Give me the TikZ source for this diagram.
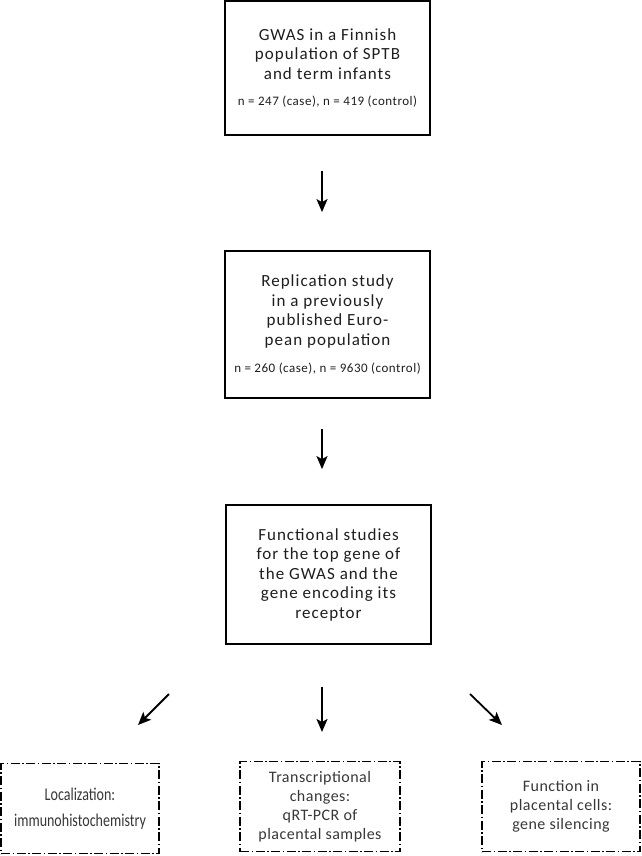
\documentclass[tikz,border=0pt]{standalone}
\usepackage{fontspec}
\setmainfont{Carlito}[LetterSpace=6]
\newfontfamily\countfont{Carlito}[LetterSpace=4]
\newfontfamily\branchfont{Carlito}[LetterSpace=3]
\newfontfamily\condfont{Carlito}[FakeStretch=0.78]
\usepackage{xcolor}
\usetikzlibrary{arrows.meta,positioning}
\definecolor{boxtext}{RGB}{30,30,30}
\definecolor{subtext}{RGB}{55,55,55}

\begin{document}
\begin{tikzpicture}[
  x=1pt,y=-1pt,
  >=Stealth,
  studybox/.style={draw=black,line width=1.8pt,align=center,
    minimum width=205pt,inner sep=0pt,text=boxtext,
    font=\fontsize{17}{19.5}\selectfont},
  branchbox/.style={draw=black,line width=1.2pt,
    dash pattern=on 9pt off 2.5pt on 1.5pt off 2.5pt,
    align=center,minimum width=159pt,minimum height=90pt,inner sep=0pt,
    text=subtext,font=\branchfont\fontsize{16}{19}\selectfont},
  flow/.style={->,line width=1.8pt,
    arrows={-Stealth[length=13pt,width=11pt,inset=3pt]}},
  count/.style={font=\fontsize{12.5}{15}\selectfont}
]
\useasboundingbox (0,0) rectangle (641,856);

\node[studybox,minimum height=134pt] (gwas) at (327.5,68)
  {GWAS in a Finnish\\population of SPTB\\and term infants\\[7pt]
   {\countfont\fontsize{13}{15}\selectfont n = 247 (case), n = 419 (control)}};
\node[studybox,minimum height=147pt] (replication) at (327.5,324.5)
  {Replication study\\in a previously\\published Euro-\\pean population\\[8pt]
   {\countfont\fontsize{13}{15}\selectfont n = 260 (case), n = 9630 (control)}};
\node[studybox,minimum height=139pt] (functional) at (328.5,574.5)
  {Functional studies\\for the top gene of\\the GWAS and the\\gene encoding its\\receptor};

\node[branchbox,minimum width=158pt,font=\condfont\fontsize{18}{19}\selectfont]
  (localization) at (80,808.5) {Localization:\\[7pt]immunohistochemistry};
\node[branchbox,minimum width=160pt] (transcription) at (320,806.5)
  {Transcriptional\\changes:\\qRT-PCR of\\placental samples};
\node[branchbox,minimum width=158pt] (silencing) at (561,806.5)
  {Function in\\placental cells:\\gene silencing};

% arrow ends between the boxes
\coordinate (left start) at (169,694);
\coordinate (left end) at (138,725);
\coordinate (mid start) at (322,687);
\coordinate (mid end) at (322,732);
\coordinate (right start) at (470,694);
\coordinate (right end) at (502,725);

\draw[flow,shorten <=35pt,shorten >=38pt] ([xshift=-5.5pt]gwas.south) -- ([xshift=-5.5pt]replication.north);
\draw[flow,shorten <=30pt,shorten >=35pt] ([xshift=-5.5pt]replication.south) -- ([xshift=-6.5pt]functional.north);
\draw[flow] (left start) -- (left end);
\draw[flow] (mid start) -- (mid end);
\draw[flow] (right start) -- (right end);
\end{tikzpicture}
\end{document}
